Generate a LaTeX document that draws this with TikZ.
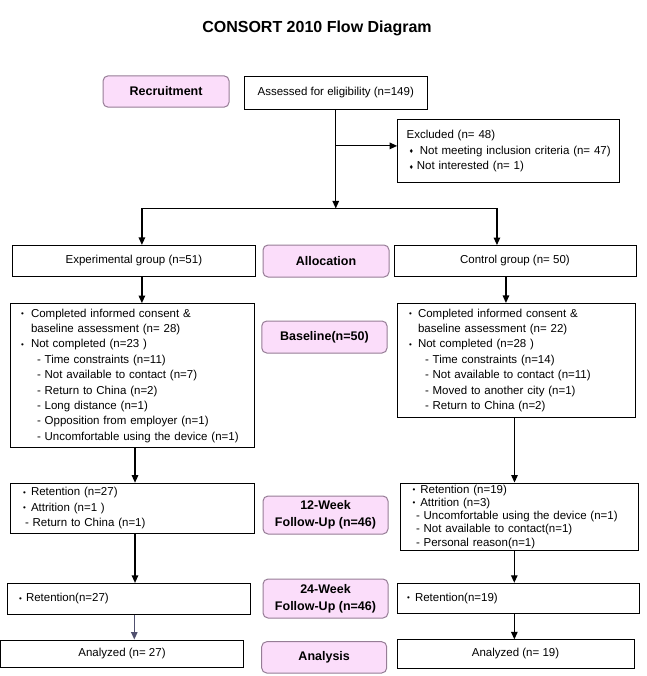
\documentclass[tikz,border=0pt]{standalone}
\usepackage{fontspec}
\setmainfont{Liberation Sans}
\usetikzlibrary{arrows.meta, positioning}

\definecolor{stagefill}{RGB}{251,221,250}
\definecolor{stageline}{RGB}{150,125,150}
\definecolor{arrowgray}{RGB}{80,80,110}

% bullets of the lists
\newcommand{\bul}[1][10pt]{\makebox[#1][l]{\raisebox{0.6pt}{\footnotesize\textbullet}}}
\newcommand{\dia}[1][8pt]{\makebox[#1][l]{\raisebox{0.6pt}{\scriptsize ♦}}}

\begin{document}
\begin{tikzpicture}[
		x=1pt, y=-1pt,
		box/.style={draw, rectangle, line width=0.9pt, inner sep=0pt, font=\fontsize{11.5}{15.4}\selectfont},
		listbox/.style={box, align=left},
		stage/.style={draw=stageline, fill=stagefill, line width=1pt, rounded corners=5pt, inner sep=0pt, align=center, font=\bfseries\fontsize{12.5}{17}\selectfont},
		arrow/.style={-{Triangle[length=7.5pt, width=6.5pt]}, line width=1.2pt}
		]
		\useasboundingbox (0,0) rectangle (646,676);

		% Title
		\node[font=\bfseries\fontsize{16}{19}\selectfont] (title) at (317,28) {CONSORT 2010 Flow Diagram};

		% Recruitment
		\node[box, minimum width=183.5pt, minimum height=33pt] (assess) at (335.75,92.5) {Assessed for eligibility (n=149)};
		\node[stage, minimum width=126pt, minimum height=31.3pt, left=14pt of assess, yshift=1pt] (recruit) {Recruitment};
		\node[listbox, text width=204.3pt, inner xsep=9pt, minimum height=63pt, below right=10pt and -30.8pt of assess.south east] (excl) {Excluded (n= 48)\\
			\hspace*{3pt}\dia[10.3pt]Not meeting inclusion criteria (n= 47)\\
			\hspace*{3pt}\dia[7.3pt]Not interested (n= 1)};

		% Stages
		\node[stage, minimum width=126pt, minimum height=32pt] (alloc) at (326,261) {Allocation};
		\node[stage, minimum width=125.3pt, minimum height=32pt, below=43pt of alloc, xshift=-1.6pt] (base) {Baseline(n=50)};
		\node[stage, minimum width=125pt, minimum height=38pt, below=142pt of base, xshift=1.1pt] (week12) {12-Week\\Follow-Up (n=46)};
		\node[stage, minimum width=125pt, minimum height=39pt, below=44pt of week12] (week24) {24-Week\\Follow-Up (n=46)};
		\node[stage, minimum width=125pt, minimum height=31.3pt, below=22.7pt of week24, xshift=-1.3pt] (analysis) {Analysis};

		% Experimental group
		\node[box, minimum width=243.7pt, minimum height=31.3pt, left=6.3pt of alloc] (expgrp) {Experimental group (n=51)};
		\node[listbox, text width=223.4pt, inner xsep=10.3pt, minimum height=144.3pt, below=26pt of expgrp, xshift=-1.2pt] (basexp) {\bul Completed informed consent \&\\
			\hspace*{10pt}baseline assessment (n= 28)\\
			\bul Not completed (n=23 )\\
			\hspace*{16pt}- Time constraints (n=11)\\
			\hspace*{16pt}- Not available to contact (n=7)\\
			\hspace*{16pt}- Return to China (n=2)\\
			\hspace*{16pt}- Long distance (n=1)\\
			\hspace*{16pt}- Opposition from employer (n=1)\\
			\hspace*{16pt}- Uncomfortable using the device (n=1)};
		\node[listbox, text width=219.4pt, inner xsep=12.3pt, minimum height=50.3pt, below=34.4pt of basexp] (fuexp12) {\bul[8pt]Retention (n=27)\\
			\bul[8pt]Attrition (n=1 )\\
			\hspace*{2pt}- Return to China (n=1)};
		\node[listbox, text width=220pt, inner xsep=11.7pt, minimum height=30.7pt, below=49pt of fuexp12, xshift=-3.7pt] (fuexp24) {\bul[7pt]Retention(n=27)};
		\node[box, minimum width=242.6pt, minimum height=27.6pt, below=25pt of fuexp24, xshift=-7pt] (anaexp) {Analyzed (n= 27)};

		% Control group
		\node[box, minimum width=242pt, minimum height=31pt, right=4pt of alloc] (ctrlgrp) {Control group (n= 50)};
		\node[listbox, text width=214.7pt, inner xsep=11.3pt, minimum height=113.7pt, below=26pt of ctrlgrp, xshift=1.4pt] (basectrl) {\bul[9pt]Completed informed consent \&\\
			\hspace*{9pt}baseline assessment (n= 22)\\
			\bul[9pt]Not completed (n=28 )\\
			\hspace*{16pt}- Time constraints (n=14)\\
			\hspace*{16pt}- Not available to contact (n=11)\\
			\hspace*{16pt}- Moved to another city (n=1)\\
			\hspace*{16pt}- Return to China (n=2)};
		\node[listbox, text width=212.6pt, inner xsep=12.7pt, minimum height=67.3pt, below=65pt of basectrl, xshift=2.65pt, font=\fontsize{11.5}{13.3}\selectfont] (fuctrl12) {\bul[7.6pt]Retention (n=19)\\
			\bul[7.6pt]Attrition (n=3)\\
			\hspace*{3.3pt}- Uncomfortable using the device (n=1)\\
			\hspace*{3.3pt}- Not available to contact(n=1)\\
			\hspace*{3.3pt}- Personal reason(n=1)};
		\node[listbox, text width=222.7pt, inner xsep=9.3pt, minimum height=30pt, below=32pt of fuctrl12, xshift=-0.65pt] (fuctrl24) {\bul[8pt]Retention(n=19)};
		\node[box, minimum width=237pt, minimum height=28.3pt, below=25.7pt of fuctrl24, xshift=-2.85pt] (anactrl) {Analyzed (n= 19)};

		% Arrows
		\coordinate[below=99pt of assess.south] (split);
		\coordinate[xshift=8pt] (lsplit) at (split -| expgrp.north);
		\coordinate[xshift=-18pt] (rsplit) at (split -| ctrlgrp.north);
		\draw[arrow] (assess.south) -- (split);
		\draw[arrow, transform canvas={yshift=5.5pt}] (assess.south |- excl.west) -- (excl.west);
		\draw[line width=1.2pt] (lsplit) -- (rsplit);
		\draw[arrow] (lsplit) -- (lsplit |- expgrp.north);
		\draw[arrow] (rsplit) -- (rsplit |- ctrlgrp.north);

		\draw[arrow, transform canvas={xshift=8pt}] (expgrp.south) -- (expgrp.south |- basexp.north);
		\draw[arrow, transform canvas={xshift=2.3pt}] (basexp.south) -- (basexp.south |- fuexp12.north);
		\draw[arrow, transform canvas={xshift=2.3pt}] (fuexp12.south) -- (fuexp12.south |- fuexp24.north);
		\draw[arrow, arrowgray, transform canvas={xshift=5.3pt}] (fuexp24.south) -- (fuexp24.south |- anaexp.north);

		\draw[arrow, transform canvas={xshift=-9pt}] (ctrlgrp.south) -- (ctrlgrp.south |- basectrl.north);
		\draw[arrow, transform canvas={xshift=-1.85pt}] (basectrl.south) -- (basectrl.south |- fuctrl12.north);
		\draw[arrow, transform canvas={xshift=-4.7pt}] (fuctrl12.south) -- (fuctrl12.south |- fuctrl24.north);
		\draw[arrow, transform canvas={xshift=-4pt}] (fuctrl24.south) -- (fuctrl24.south |- anactrl.north);

	\end{tikzpicture}
\end{document}
